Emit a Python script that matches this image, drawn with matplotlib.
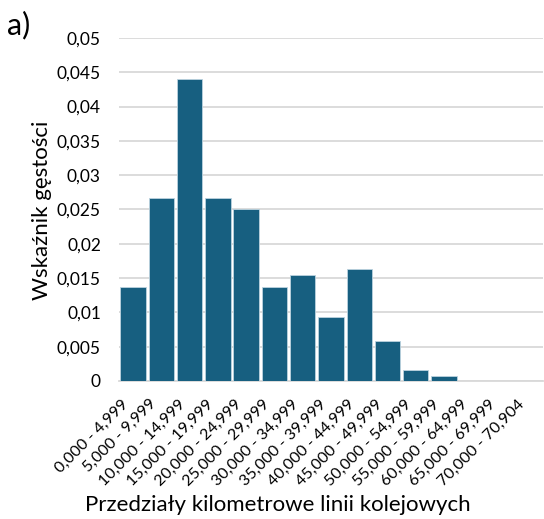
import numpy as np
import matplotlib.pyplot as plt
from matplotlib.transforms import ScaledTranslation

plt.rcParams['font.family'] = ['Lato', 'DejaVu Sans']

# przedzialy kilometrowe i wskaznik gestosci
przedzialy = ["0,000 - 4,999", "5,000 - 9,999", "10,000 - 14,999", "15,000 - 19,999",
              "20,000 - 24,999", "25,000 - 29,999", "30,000 - 34,999", "35,000 - 39,999",
              "40,000 - 44,999", "45,000 - 49,999", "50,000 - 54,999", "55,000 - 59,999",
              "60,000 - 64,999", "65,000 - 69,999", "70,000 - 70,904"]
gestosc = [0.0137, 0.0267, 0.0440, 0.0267, 0.0251, 0.0137, 0.01545, 0.0094,
           0.0163, 0.0059, 0.0016, 0.0008, 0.0, 0.0, 0.0]
yticks = [0, 0.005, 0.01, 0.015, 0.02, 0.025, 0.03, 0.035, 0.04, 0.045, 0.05]
ytick_labels = ["0", "0,005", "0,01", "0,015", "0,02", "0,025", "0,03", "0,035",
                "0,04", "0,045", "0,05"]

fig = plt.figure(figsize=(5.44, 5.19), dpi=100)
ax = fig.add_axes([0.2188, 0.2659, 0.7792, 0.6609])

x = np.arange(len(przedzialy))
ax.bar(x, gestosc, width=0.9, color='#175f80', edgecolor='#bcd3df', linewidth=0.6, zorder=3)

ax.set_xlim(-0.5, len(przedzialy) - 0.5)
ax.set_ylim(0, 0.05)
ax.set_yticks(yticks)
ax.set_yticklabels(ytick_labels, fontsize=12.5, color='#000000')
ax.yaxis.grid(True, color='#d9d9d9', linewidth=1.3, zorder=0)
ax.tick_params(axis='y', length=0, pad=13)
ax.tick_params(axis='x', length=0, pad=15)

ax.set_xticks(x)
ax.set_xticklabels(przedzialy, rotation=45, ha='right', va='center',
                   rotation_mode='anchor', fontsize=11.5)
# etykiety troche w lewo
przesun = ScaledTranslation(-5 / 72, 0, fig.dpi_scale_trans)
for lab in ax.get_xticklabels():
    lab.set_transform(lab.get_transform() + przesun)

for s in ['top', 'right', 'left']:
    ax.spines[s].set_visible(False)
ax.spines['bottom'].set_color('#d9d9d9')
ax.spines['bottom'].set_linewidth(1.3)

fig.text(0.077, 0.595, "Wskaźnik gęstości", fontsize=16, rotation=90,
         ha='center', va='center')
fig.text(0.511, 0.027, "Przedziały kilometrowe linii kolejowych", fontsize=16,
         ha='center', va='center')
fig.text(0.012, 0.951, "a)", fontsize=22, ha='left', va='center')

plt.savefig("out.png", dpi=100)
